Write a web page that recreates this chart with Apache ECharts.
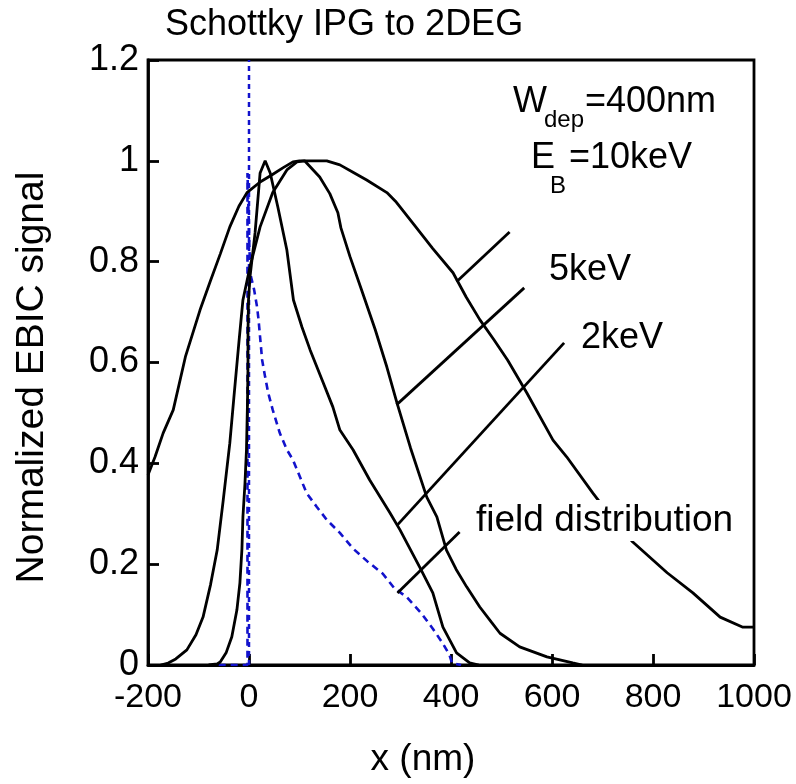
<!DOCTYPE html>
<html><head><meta charset="utf-8">
<script src="https://cdn.jsdelivr.net/npm/echarts@6/dist/echarts.min.js"></script>
<style>html,body{margin:0;padding:0;background:#fff}#c{width:796px;height:784px}</style>
</head><body><div id="c"></div>
<script>
// ---- data ----
const xRange = [-200, 1000];
const yRange = [0, 1.2];
const keV10 = [[-200,0.377],[-186,0.413],[-170,0.46],[-150,0.506],[-126,0.611],[-97,0.704],[-77,0.76],[-57,0.815],[-38,0.869],[-20,0.91],[-4,0.937],[22,0.958],[45,0.972],[67,0.986],[87,0.998],[100,1.0],[154,1.0],[180,0.992],[205,0.978],[233,0.962],[273,0.937],[290,0.92],[324,0.877],[364,0.826],[404,0.778],[430,0.73],[457,0.685],[485,0.645],[512,0.605],[550,0.54],[602,0.446],[629,0.413],[681,0.341],[720,0.29],[760,0.244],[828,0.183],[879,0.143],[933,0.095],[978,0.075],[1000,0.075]];
const keV5 = [[-175,0],[-160,0.004],[-145,0.012],[-123,0.03],[-105,0.06],[-91,0.095],[-76,0.16],[-63,0.228],[-51,0.327],[-38,0.44],[-30,0.53],[-20,0.64],[-12,0.724],[2,0.79],[22,0.869],[47,0.937],[75,0.982],[95,0.998],[110,1.0],[140,0.968],[160,0.935],[176,0.897],[182,0.867],[200,0.81],[225,0.738],[250,0.665],[273,0.591],[293,0.52],[320,0.43],[352,0.333],[372,0.294],[391,0.228],[410,0.19],[431,0.155],[457,0.115],[480,0.085],[497,0.063],[536,0.036],[590,0.016],[641,0.004],[660,0]];
const keV2 = [[-80,0],[-63,0.002],[-57,0.006],[-45,0.025],[-34,0.056],[-24,0.109],[-18,0.163],[-14,0.23],[-12,0.294],[-8,0.36],[-5,0.427],[-3,0.52],[-2,0.591],[-2,0.66],[-1,0.724],[2,0.77],[12,0.857],[22,0.976],[32,1.0],[42,0.976],[57,0.909],[75,0.823],[88,0.724],[105,0.67],[121,0.625],[145,0.565],[166,0.512],[180,0.466],[206,0.427],[239,0.367],[279,0.302],[299,0.268],[338,0.194],[364,0.143],[384,0.075],[400,0.045],[411,0.024],[437,0.004],[455,0]];
const fieldDist = [[-60,0],[-3,0],[-3,0.976],[-1,0.9],[1,0.82],[4,0.77],[10,0.745],[16,0.71],[19,0.684],[26,0.605],[32,0.571],[38,0.54],[47,0.506],[61,0.46],[75,0.427],[87,0.407],[101,0.373],[114,0.341],[134,0.314],[154,0.288],[180,0.262],[206,0.231],[235,0.205],[265,0.181],[288,0.152],[312,0.135],[341,0.103],[364,0.072],[383,0.044],[397,0.02],[402,0.004],[420,0]];
const gateEdge = [[0,0],[0,1.2]];
const pointer10 = [[516,0.859],[411,0.760]];
const pointer5 = [[545,0.748],[292,0.516]];
const pointer2 = [[624,0.639],[294,0.278]];
const pointerField = [[417,0.264],[294,0.143]];

const FONT = "'Liberation Sans', Arial, Helvetica, sans-serif";
const BLUE = '#1212cc';
const chart = echarts.init(document.getElementById('c'), null, {renderer:'canvas'});

function curve(data){
  return {type:'line', data, showSymbol:false, symbol:'none', silent:true, animation:false,
    lineStyle:{color:'#000', width:2.8}, z:3};
}
const txt = (t, x, y, size) => ({type:'text', left:x, top:y, style:{text:t, fontSize:size, fontFamily:FONT, fill:'#000'}});

chart.setOption({
  animation:false,
  title:{text:'Schottky IPG to 2DEG', left:160, top:2, textStyle:{fontSize:36, fontWeight:'normal', fontFamily:FONT, color:'#000'}},
  grid:{left:148, top:60, width:606, height:605, show:true, borderColor:'#000', borderWidth:2.8, backgroundColor:'transparent'},
  xAxis:{type:'value', min:xRange[0], max:xRange[1], interval:200,
    name:'x (nm)', nameLocation:'middle', nameGap:76,
    nameTextStyle:{fontSize:37, fontFamily:FONT, color:'#000', padding:[0,56,0,0]},
    axisLine:{show:true, onZero:false, lineStyle:{color:'#000', width:2.8}},
    axisTick:{show:true, inside:true, length:11, lineStyle:{color:'#000', width:2.8}},
    axisLabel:{fontSize:34, fontFamily:FONT, color:'#000', margin:16, formatter:v => String(v)},
    splitLine:{show:false}},
  yAxis:{type:'value', min:yRange[0], max:yRange[1], interval:0.2,
    name:'Normalized EBIC signal', nameLocation:'middle', nameGap:96,
    nameTextStyle:{fontSize:39, fontFamily:FONT, color:'#000', padding:[0,30,0,0]},
    axisLine:{show:true, onZero:false, lineStyle:{color:'#000', width:2.8}},
    axisTick:{show:true, inside:true, length:11, lineStyle:{color:'#000', width:2.8}},
    axisLabel:{fontSize:36, fontFamily:FONT, color:'#000', margin:9,
      formatter:v => String(Math.round(v*10)/10)},
    splitLine:{show:false}},
  series:[
    {type:'line', data:gateEdge, showSymbol:false, symbol:'none', silent:true, animation:false,
      lineStyle:{color:BLUE, width:2.5, type:[5,4]}, z:2},
    {type:'line', data:fieldDist, showSymbol:false, symbol:'none', silent:true, animation:false,
      lineStyle:{color:BLUE, width:2.6, type:[7,5]}, z:2},
    curve(keV10), curve(keV5), curve(keV2),
    curve(pointer10), curve(pointer5), curve(pointer2), curve(pointerField)
  ],
  graphic:[
    txt('W', 513, 84, 36),
    txt('dep', 544, 108, 24),
    txt('=400nm', 585, 84, 36),
    txt('E', 531, 140, 36),
    txt('B', 550, 174, 24),
    txt('=10keV', 569, 140, 36),
    txt('5keV', 549, 252, 36),
    txt('2keV', 581, 320, 36),
    {type:'text', left:474, top:500, z:10, style:{text:'field distribution', fontSize:37, fontFamily:FONT, fill:'#000', backgroundColor:'#fff', padding:[2,2,2,2]}}
  ]
});
</script></body></html>
